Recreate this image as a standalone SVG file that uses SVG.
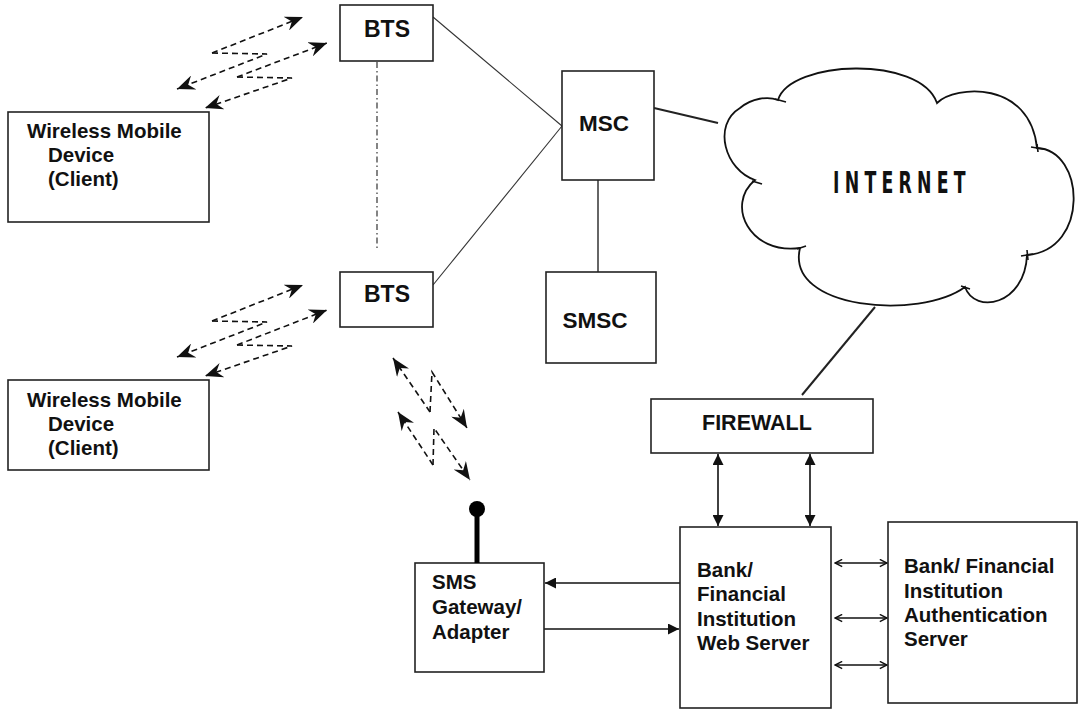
<svg xmlns="http://www.w3.org/2000/svg" width="1079" height="710" viewBox="0 0 1079 710">
<style>
.box{fill:#fff;stroke:#222;stroke-width:1.6}
.t{font-family:"Liberation Sans",Arial,sans-serif;font-weight:bold;fill:#111;font-size:20.5px}
.big{font-size:23px}
.thin{stroke:#333;stroke-width:1.1;fill:none}
.med{stroke:#222;stroke-width:2;fill:none}
.dash{stroke:#111;stroke-width:1.6;fill:none;stroke-dasharray:6,4}
.arr{stroke:#111;stroke-width:1.6;fill:none}
</style>
<defs>
<marker id="fill" viewBox="0 0 10 10" refX="10" refY="5" markerWidth="12" markerHeight="11" markerUnits="userSpaceOnUse" orient="auto-start-reverse"><path d="M0,0 L10,5 L0,10 z" fill="#111"/></marker>
<marker id="open" viewBox="0 0 10 10" refX="9" refY="5" markerWidth="9" markerHeight="9" markerUnits="userSpaceOnUse" orient="auto-start-reverse"><path d="M1,1 L9,5 L1,9" fill="none" stroke="#111" stroke-width="1.6"/></marker>
<marker id="barb" viewBox="0 0 12 10" refX="12" refY="5" markerWidth="18" markerHeight="15" markerUnits="userSpaceOnUse" orient="auto"><path d="M0,0 L12,5 L0,10 L4,5 z" fill="#111"/></marker>
</defs>

<g id="connectors">
<line class="thin" x1="433" y1="17" x2="562" y2="126"/>
<line class="thin" x1="433" y1="285" x2="562" y2="126"/>
<line x1="377" y1="62" x2="377" y2="250" stroke="#333" stroke-width="1.2" stroke-dasharray="6,3,1.5,3"/>
<line class="med" x1="654" y1="108" x2="718" y2="123"/>
<line class="thin" x1="598" y1="180" x2="598" y2="272" style="stroke-width:1.5"/>
<line class="med" x1="875" y1="307" x2="802" y2="395"/>
<line class="arr" x1="718" y1="454" x2="718" y2="526" marker-start="url(#fill)" marker-end="url(#fill)"/>
<line class="arr" x1="810" y1="454" x2="810" y2="526" marker-start="url(#fill)" marker-end="url(#fill)"/>
<line class="arr" x1="680" y1="583" x2="545" y2="583" marker-end="url(#fill)"/>
<line class="arr" x1="544" y1="629" x2="679" y2="629" marker-end="url(#fill)"/>
<line class="arr" x1="835" y1="563" x2="887" y2="563" marker-start="url(#open)" marker-end="url(#open)"/>
<line class="arr" x1="835" y1="618" x2="887" y2="618" marker-start="url(#open)" marker-end="url(#open)"/>
<line class="arr" x1="835" y1="665" x2="887" y2="665" marker-start="url(#open)" marker-end="url(#open)"/>
<!-- wireless links BTS1 -->
<polyline class="dash" points="212,53 303,17" marker-end="url(#barb)"/>
<polyline class="dash" points="212,53 267,54 177,89" marker-end="url(#barb)"/>
<polyline class="dash" points="237,77 327,43" marker-end="url(#barb)"/>
<polyline class="dash" points="237,77 292,78 205,108" marker-end="url(#barb)"/>
<!-- wireless links BTS2 -->
<polyline class="dash" points="212,321 303,285" marker-end="url(#barb)"/>
<polyline class="dash" points="212,321 267,322 177,357" marker-end="url(#barb)"/>
<polyline class="dash" points="237,345 327,310" marker-end="url(#barb)"/>
<polyline class="dash" points="237,345 292,346 205,376" marker-end="url(#barb)"/>
<!-- wireless links SMS gateway -->
<polyline class="dash" points="430,412 393,358" marker-end="url(#barb)"/>
<polyline class="dash" points="430,412 432,372 467,428" marker-end="url(#barb)"/>
<polyline class="dash" points="433,465 398,412" marker-end="url(#barb)"/>
<polyline class="dash" points="433,465 434,428 470,480" marker-end="url(#barb)"/>
</g>

<g id="bts1"><rect class="box" x="340" y="5" width="93" height="56"/><text class="t big" x="387" y="37" text-anchor="middle">BTS</text></g>
<g id="bts2"><rect class="box" x="340" y="272" width="93" height="55"/><text class="t big" x="387" y="302" text-anchor="middle">BTS</text></g>
<g id="wireless1"><rect class="box" x="8" y="112" width="201" height="110"/>
<text class="t" x="27" y="138">Wireless Mobile</text><text class="t" x="48" y="162">Device</text><text class="t" x="48" y="186">(Client)</text></g>
<g id="wireless2"><rect class="box" x="8" y="380" width="201" height="90"/>
<text class="t" x="27" y="407">Wireless Mobile</text><text class="t" x="48" y="431">Device</text><text class="t" x="48" y="455">(Client)</text></g>
<g id="msc"><rect class="box" x="562" y="71" width="92" height="109"/><text class="t" style="font-size:22.5px" x="604" y="131" text-anchor="middle">MSC</text></g>
<g id="smsc"><rect class="box" x="546" y="272" width="110" height="91"/><text class="t" style="font-size:22.5px" x="595" y="328" text-anchor="middle">SMSC</text></g>

<g id="internet">
<path d="M755,180 C725,170 712,125 740,108 C752,98 768,96 778,100 C790,60 920,55 937,103 C955,85 1030,80 1037,148 C1085,150 1090,250 1027,255 C1025,305 975,315 965,287 C920,320 785,310 800,248 C750,255 725,205 755,180 Z" fill="#fff" stroke="#111" stroke-width="1.8"/>
<g stroke="#111" stroke-width="1.6">
<line x1="752" y1="181" x2="762" y2="184"/>
<line x1="775" y1="99" x2="786" y2="102"/>
<line x1="1031" y1="147" x2="1043" y2="149"/><line x1="1037" y1="144" x2="1038" y2="152"/>
<line x1="1021" y1="256" x2="1033" y2="254"/><line x1="1027" y1="250" x2="1028" y2="260"/>
<line x1="961" y1="286" x2="970" y2="289"/>
<line x1="797" y1="249" x2="806" y2="246"/>
</g>
<g transform="translate(833,193) scale(0.62,1)">
<text x="0" y="0" textLength="214" lengthAdjust="spacing" style="font-family:'DejaVu Sans Condensed','DejaVu Sans',sans-serif;font-size:31px;font-weight:bold;fill:#111">INTERNET</text>
</g>
</g>

<g id="firewall"><rect class="box" x="651" y="399" width="222" height="54"/><text class="t" style="font-size:21.5px" x="702" y="430">FIREWALL</text></g>
<g id="webserver"><rect class="box" x="680" y="527" width="151" height="181"/>
<text class="t" x="697" y="577">Bank/</text><text class="t" x="697" y="601">Financial</text><text class="t" x="697" y="626">Institution</text><text class="t" x="697" y="650">Web Server</text></g>
<g id="authserver"><rect class="box" x="888" y="522" width="189" height="181"/>
<text class="t" x="904" y="573">Bank/ Financial</text><text class="t" x="904" y="598">Institution</text><text class="t" x="904" y="622">Authentication</text><text class="t" x="904" y="646">Server</text></g>
<g id="smsgateway"><rect class="box" x="415" y="563" width="129" height="109"/>
<line x1="477" y1="510" x2="477" y2="563" stroke="#000" stroke-width="5"/><circle cx="477" cy="509" r="8" fill="#000"/>
<text class="t" x="432" y="589">SMS</text><text class="t" x="432" y="614">Gateway/</text><text class="t" x="432" y="639">Adapter</text></g>
</svg>
